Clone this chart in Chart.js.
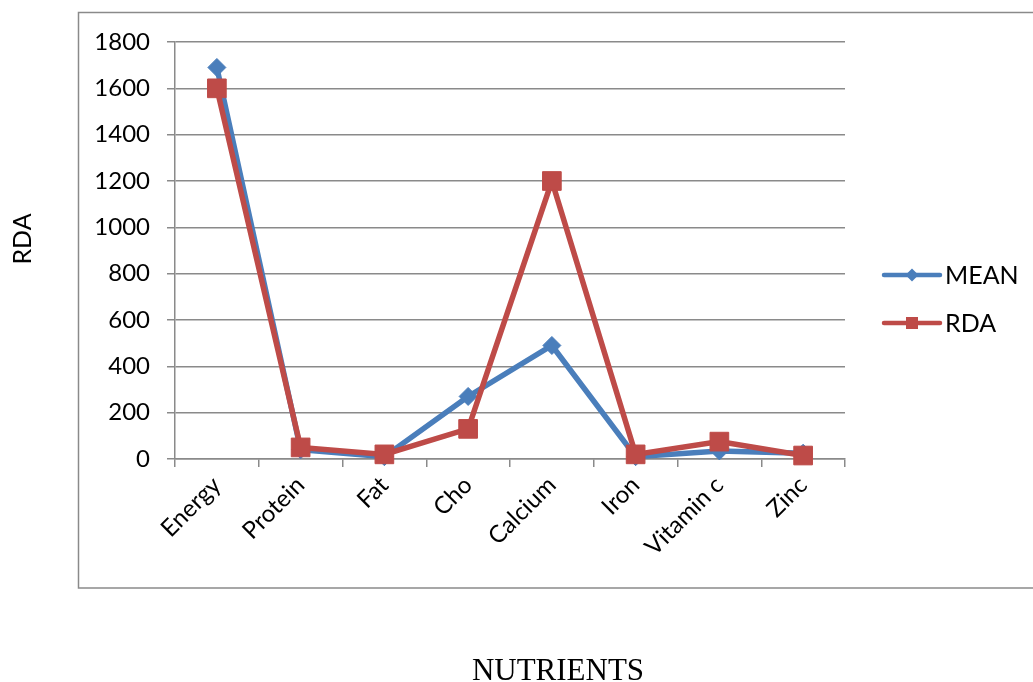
<!DOCTYPE html>
<html>
<head>
<meta charset="utf-8">
<script src="https://cdn.jsdelivr.net/npm/chart.js@4/dist/chart.umd.min.js"></script>
<style>
  html, body { margin: 0; padding: 0; background: #ffffff; }
  #wrap { position: relative; width: 1033px; height: 682px; overflow: hidden; }
  canvas { display: block; }
</style>
</head>
<body>
<div id="wrap"><canvas id="chart" width="1033" height="682"></canvas></div>
<script>
// Nutrient intake: mean vs recommended dietary allowance
const categories = ['Energy', 'Protein', 'Fat', 'Cho', 'Calcium', 'Iron', 'Vitamin c', 'Zinc'];
const meanValues = [1690, 40, 10, 270, 490, 10, 35, 25];
const rdaValues  = [1600, 50, 20, 130, 1200, 20, 75, 15];
const seriesNames = ['MEAN', 'RDA'];
const yMin = 0, yMax = 1800, yStep = 200;
const xTitle = 'NUTRIENTS';
const yTitle = 'RDA';

const BLUE = '#4A7EBB';
const RED = '#BE4B48';
const GRID = '#8A8A8A';
const FONT = 'Lato, "Open Sans", sans-serif';

// Outer frame around the plot and legend
const framePlugin = {
  id: 'frame',
  beforeDraw(chart) {
    const ctx = chart.ctx;
    ctx.save();
    ctx.strokeStyle = GRID;
    ctx.lineWidth = 1.5;
    ctx.strokeRect(78.5, 12.5, 1040, 575.5);
    ctx.restore();
  }
};

// Legend with line + marker samples, and the axis titles
const extrasPlugin = {
  id: 'extras',
  afterDraw(chart) {
    const ctx = chart.ctx;
    const area = chart.chartArea;
    ctx.save();
    const x0 = area.right + 39, x1 = area.right + 95;
    const rows = [275, 323];
    chart.data.datasets.forEach((ds, i) => {
      const y = rows[i];
      const col = ds.borderColor;
      ctx.strokeStyle = col;
      ctx.lineWidth = 4.5;
      ctx.lineCap = 'round';
      ctx.beginPath();
      ctx.moveTo(x0, y);
      ctx.lineTo(x1, y);
      ctx.stroke();
      ctx.fillStyle = col;
      const cx = (x0 + x1) / 2;
      ctx.beginPath();
      if (ds.pointStyle === 'rectRot') {
        const r = 6.5;
        ctx.moveTo(cx - r, y); ctx.lineTo(cx, y - r);
        ctx.lineTo(cx + r, y); ctx.lineTo(cx, y + r);
        ctx.closePath();
      } else {
        const h = 6;
        ctx.rect(cx - h, y - h, 2 * h, 2 * h);
      }
      ctx.fill();
      ctx.fillStyle = '#000000';
      ctx.font = '25px ' + FONT;
      ctx.textAlign = 'left';
      ctx.textBaseline = 'middle';
      ctx.fillText(ds.label, x1 + 5, y + 1);
    });

    // value axis title, rotated
    ctx.save();
    ctx.translate(23, 239);
    ctx.rotate(-Math.PI / 2);
    ctx.font = '25px ' + FONT;
    ctx.textAlign = 'center';
    ctx.textBaseline = 'middle';
    ctx.fillStyle = '#000000';
    ctx.fillText(yTitle, 0, 0);
    ctx.restore();

    // category axis title below the frame
    ctx.font = '31px "Liberation Serif", "Times New Roman", serif';
    ctx.textAlign = 'center';
    ctx.textBaseline = 'alphabetic';
    ctx.fillStyle = '#000000';
    ctx.fillText(xTitle, 558, 680);
    ctx.restore();
  }
};

new Chart(document.getElementById('chart'), {
  type: 'line',
  data: {
    labels: categories,
    datasets: [
      {
        label: seriesNames[0],
        data: meanValues,
        borderColor: BLUE,
        backgroundColor: BLUE,
        borderWidth: 5.5,
        pointStyle: 'rectRot',
        pointRadius: 9,
        pointBorderWidth: 1,
        pointBackgroundColor: BLUE,
        pointBorderColor: BLUE,
        tension: 0,
        clip: false,
        order: 2
      },
      {
        label: seriesNames[1],
        data: rdaValues,
        borderColor: RED,
        backgroundColor: RED,
        borderWidth: 5.5,
        pointStyle: 'rect',
        pointRadius: 13.2,
        pointBorderWidth: 1,
        pointBackgroundColor: RED,
        pointBorderColor: RED,
        tension: 0,
        clip: false,
        order: 1
      }
    ]
  },
  options: {
    responsive: false,
    animation: false,
    events: [],
    layout: { padding: { top: 42, right: 188, left: 0, bottom: 0 } },
    plugins: {
      legend: { display: false },
      tooltip: { enabled: false },
      title: { display: false }
    },
    scales: {
      x: {
        type: 'category',
        offset: true,
        grid: {
          offset: true,
          drawOnChartArea: false,
          drawTicks: true,
          tickLength: 8,
          color: GRID,
          lineWidth: 1.5
        },
        border: { display: true, color: GRID, width: 1.5 },
        ticks: {
          minRotation: 45,
          maxRotation: 45,
          autoSkip: false,
          padding: 4,
          color: '#000000',
          font: { family: FONT, size: 24 }
        },
        afterFit(scale) { scale.height = 223; }
      },
      y: {
        min: yMin,
        max: yMax,
        grid: {
          color: GRID,
          lineWidth: 1.5,
          tickLength: 8
        },
        border: { display: true, color: GRID, width: 1.5 },
        ticks: {
          stepSize: yStep,
          padding: 17,
          color: '#000000',
          font: { family: FONT, size: 24 },
          callback: (v) => String(v)
        },
        afterFit(scale) { scale.width = 175; }
      }
    }
  },
  plugins: [framePlugin, extrasPlugin]
});
</script>
</body>
</html>
